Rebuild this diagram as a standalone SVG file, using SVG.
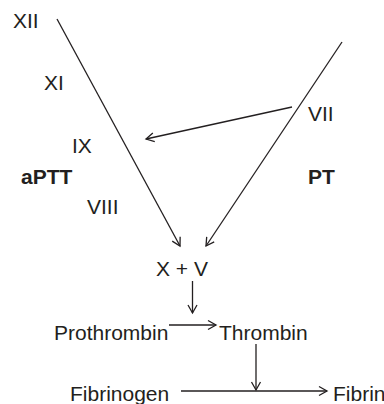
<svg xmlns="http://www.w3.org/2000/svg" width="384" height="404" viewBox="0 0 384 404">
<defs>
<style>
text{font-family:"Liberation Sans",Arial,sans-serif;font-size:21px;fill:#231f20}
.b{font-weight:bold}
.c{stroke:#231f20;stroke-width:1.3;fill:none}
</style>
<marker id="ah" markerUnits="userSpaceOnUse" markerWidth="12" markerHeight="12" viewBox="-9 -6 11 12" refX="0" refY="0" orient="auto">
<path d="M-8,-4.5 L0,0 L-8,4.5" fill="none" stroke="#231f20" stroke-width="1.3"/>
</marker>
</defs>
<rect width="384" height="404" fill="#fff"/>
<g id="connectors">
<line class="c" x1="57" y1="19" x2="180" y2="246" marker-end="url(#ah)"/>
<line class="c" x1="342" y1="42" x2="206" y2="246" marker-end="url(#ah)"/>
<line class="c" x1="292" y1="107" x2="146" y2="139" marker-end="url(#ah)"/>
<line class="c" x1="192.5" y1="281" x2="192.5" y2="313" marker-end="url(#ah)"/>
<line class="c" x1="169" y1="325" x2="216" y2="325" marker-end="url(#ah)"/>
<line class="c" x1="256" y1="344" x2="256" y2="390" marker-end="url(#ah)"/>
<line class="c" x1="181" y1="391" x2="327" y2="391" marker-end="url(#ah)"/>
</g>
<g id="XII"><text x="13" y="28">XII</text></g>
<g id="XI"><text x="44" y="90">XI</text></g>
<g id="IX"><text x="72" y="153">IX</text></g>
<g id="aPTT"><text class="b" x="21" y="184">aPTT</text></g>
<g id="VIII"><text x="87" y="214">VIII</text></g>
<g id="VII"><text x="308" y="121">VII</text></g>
<g id="PT"><text class="b" x="308" y="184">PT</text></g>
<g id="XV"><text x="156" y="276">X + V</text></g>
<g id="Prothrombin"><text x="54" y="340">Prothrombin</text></g>
<g id="Thrombin"><text x="219" y="340">Thrombin</text></g>
<g id="Fibrinogen"><text x="70" y="401">Fibrinogen</text></g>
<g id="Fibrin"><text x="333" y="401">Fibrin</text></g>
</svg>
